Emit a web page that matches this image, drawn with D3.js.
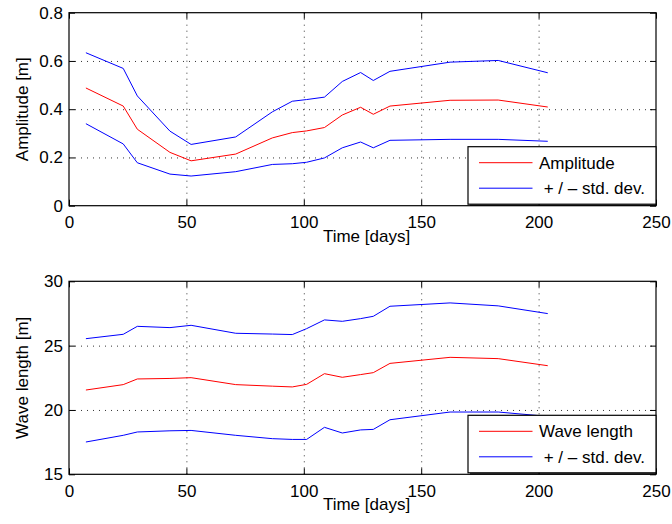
<!DOCTYPE html>
<html>
<head>
<meta charset="utf-8">
<script src="https://cdn.jsdelivr.net/npm/d3@7"></script>
<style>
   body { margin: 0; background: #fff; }
   svg text { font-family: "Liberation Sans", Arial, sans-serif; fill: #000; }
   .grid line { stroke: #000; stroke-dasharray: 1,5; stroke-width: 0.8; }
   .grid path { display: none; }
   .axis path { display: none; }
   .axis line { stroke: #000; }
</style>
</head>
<body>
<svg id="chart" width="672" height="524"></svg>
<script>
// sample times shared by both panels
var days = [7.2, 23.1, 29.1, 43, 52, 71, 86.6, 95.1, 101.2, 108.8, 116.4, 124.2, 129.6, 136.7, 162.3, 182.8, 203.9];

// amplitude panel
var ampMean  = [0.488, 0.413, 0.317, 0.221, 0.186, 0.214, 0.281, 0.303, 0.310, 0.324, 0.376, 0.408, 0.379, 0.413, 0.437, 0.438, 0.409];
var ampUpper = [0.634, 0.569, 0.455, 0.309, 0.254, 0.285, 0.389, 0.433, 0.440, 0.450, 0.515, 0.552, 0.519, 0.557, 0.595, 0.602, 0.551];
var ampLower = [0.340, 0.256, 0.178, 0.131, 0.123, 0.141, 0.171, 0.174, 0.180, 0.198, 0.240, 0.264, 0.240, 0.271, 0.275, 0.275, 0.267];

// wave length panel
var wlMean  = [21.55, 21.97, 22.41, 22.45, 22.51, 21.97, 21.85, 21.79, 21.99, 22.82, 22.54, 22.75, 22.90, 23.62, 24.09, 23.99, 23.44];
var wlUpper = [25.54, 25.88, 26.50, 26.40, 26.58, 25.96, 25.90, 25.86, 26.32, 27.00, 26.89, 27.10, 27.28, 28.06, 28.32, 28.09, 27.49];
var wlLower = [17.51, 18.03, 18.29, 18.38, 18.41, 18.03, 17.77, 17.71, 17.71, 18.65, 18.21, 18.45, 18.49, 19.24, 19.84, 19.84, 19.50];

var xTicks = [0, 50, 100, 150, 200, 250];
var ampTicks = [0, 0.2, 0.4, 0.6, 0.8];
var wlTicks = [15, 20, 25, 30];

var svg = d3.select('#chart');

var plot = {left: 69, right: 656, height: 193};
var fontSize = '17px';

function drawPanel(top, yDomain, yTicks, yFormat, yLabel, mean, upper, lower, meanLabel) {
   var w = plot.right - plot.left, h = plot.height;

   var g = svg.append('g').attr('transform', 'translate(' + plot.left + ',' + top + ')');

   var x = d3.scaleLinear().domain([0, 250]).range([0, w]);
   var y = d3.scaleLinear().domain(yDomain).range([h, 0]);

   // dotted grid at inner ticks
   g.append('g').attr('class', 'grid')
      .attr('transform', 'translate(0,' + h + ')')
      .call(d3.axisBottom(x).tickValues(xTicks.slice(1, -1)).tickSize(-h).tickFormat(''));
   g.append('g').attr('class', 'grid')
      .call(d3.axisLeft(y).tickValues(yTicks.slice(1, -1)).tickSize(-w).tickFormat(''));

   // series
   var line = d3.line()
      .x(function (d, i) { return x(days[i]); })
      .y(function (d) { return y(d); });

   [[upper, '#0000ff'], [lower, '#0000ff'], [mean, '#ff0000']].forEach(function (s) {
      g.append('path')
         .attr('d', line(s[0]))
         .attr('fill', 'none')
         .attr('stroke', s[1])
         .attr('stroke-width', 1);
   });

   // inward ticks on all four sides
   g.append('g').attr('class', 'axis')
      .attr('transform', 'translate(0,' + h + ')')
      .call(d3.axisBottom(x).tickValues(xTicks).tickSizeInner(-6).tickSizeOuter(0).tickPadding(10.5))
      .selectAll('text').style('font-size', fontSize);
   g.append('g').attr('class', 'axis')
      .call(d3.axisTop(x).tickValues(xTicks).tickSizeInner(-6).tickSizeOuter(0).tickFormat(''));
   g.append('g').attr('class', 'axis')
      .call(d3.axisLeft(y).tickValues(yTicks).tickSizeInner(-6).tickSizeOuter(0).tickPadding(6).tickFormat(yFormat))
      .selectAll('text').style('font-size', fontSize);
   g.append('g').attr('class', 'axis')
      .attr('transform', 'translate(' + w + ',0)')
      .call(d3.axisRight(y).tickValues(yTicks).tickSizeInner(-6).tickSizeOuter(0).tickFormat(''));

   g.append('rect')
      .attr('width', w).attr('height', h)
      .attr('fill', 'none').attr('stroke', '#000').attr('stroke-width', 1.2);

   // axis titles
   g.append('text')
      .attr('x', w / 2 + 4).attr('y', h + 36)
      .attr('text-anchor', 'middle')
      .style('font-size', fontSize)
      .text('Time [days]');
   g.append('text')
      .attr('transform', 'translate(' + (-41) + ',' + (h / 2) + ') rotate(-90)')
      .attr('text-anchor', 'middle')
      .style('font-size', fontSize)
      .text(yLabel);

   // legend
   var lg = g.append('g').attr('transform', 'translate(' + (w - 188) + ',' + (h - 59) + ')');
   lg.append('rect')
      .attr('width', 188).attr('height', 57.5)
      .attr('fill', '#fff').attr('stroke', '#000').attr('stroke-width', 1.2);
   lg.append('line').attr('x1', 2).attr('x2', 188).attr('y1', 58.5).attr('y2', 58.5).attr('stroke', '#000');
   [[meanLabel, '#ff0000', 16], [' + / \u2013 std. dev.', '#0000ff', 41.5]].forEach(function (item) {
      lg.append('line')
         .attr('x1', 11).attr('x2', 64.5)
         .attr('y1', item[2]).attr('y2', item[2])
         .attr('stroke', item[1]);
      lg.append('text')
         .attr('x', 71).attr('y', item[2] + 6)
         .style('font-size', fontSize)
         .style('white-space', 'pre')
         .text(item[0]);
   });
}

drawPanel(12.7, [0, 0.8], ampTicks, d3.format('.1~f'), 'Amplitude [m]', ampMean, ampUpper, ampLower, 'Amplitude');
drawPanel(281.3, [15, 30], wlTicks, d3.format('d'), 'Wave length [m]', wlMean, wlUpper, wlLower, 'Wave length');
</script>
</body>
</html>
